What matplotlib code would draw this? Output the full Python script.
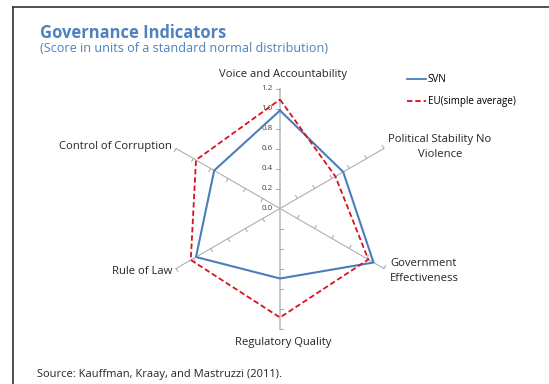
import numpy as np
import matplotlib.pyplot as plt
from matplotlib.lines import Line2D

plt.rcParams['font.family'] = ['Open Sans', 'DejaVu Sans']

# Governance indicators (score in units of a standard normal distribution)
categories = ['Voice and Accountability', 'Political Stability No\nViolence',
              'Government\nEffectiveness', 'Regulatory Quality',
              'Rule of Law', 'Control of Corruption']
svn = [0.98, 0.73, 1.08, 0.70, 0.97, 0.76]
eu = [1.09, 0.64, 1.02, 1.09, 1.03, 0.97]
ticks = [0.0, 0.2, 0.4, 0.6, 0.8, 1.0, 1.2]
rmax = 1.2

# spoke angles: start at top, go clockwise
angles = np.pi / 2 - np.arange(len(categories)) * 2 * np.pi / len(categories)

fig = plt.figure(figsize=(5.49, 3.84), dpi=100)
ax = fig.add_axes([0, 0, 1, 1])
ax.set_xlim(-2.80, 2.69)
ax.set_ylim(-1.755, 2.085)
ax.axis('off')

# spokes with small tick marks
for i, a in enumerate(angles):
    ca, sa = np.cos(a), np.sin(a)
    if i == 0 or i == 3:
        ax.plot([0, rmax * ca], [0, rmax * sa], color='#c8c8c8', lw=1.4, zorder=1)
    else:
        ax.plot([0, rmax * ca], [0, rmax * sa], color='#a6a6a6', lw=0.7, zorder=1)
    px, py = -sa, ca
    for t in ticks[1:]:
        cx, cy = t * ca, t * sa
        ax.plot([cx, cx + 0.035 * px], [cy, cy + 0.035 * py],
                color='#a6a6a6', lw=0.7, zorder=1)

# tick labels on the vertical axis
for t in ticks:
    ax.text(-0.07, t, f'{t:.1f}', ha='right', va='center', fontsize=5.8,
            color='#404040')

def close(v):
    return list(v) + [v[0]]

ang_c = close(angles)
ax.plot(np.array(close(svn)) * np.cos(ang_c), np.array(close(svn)) * np.sin(ang_c),
        color='#4a7ebb', lw=1.5, zorder=3)
ax.plot(np.array(close(eu)) * np.cos(ang_c), np.array(close(eu)) * np.sin(ang_c),
        color='#d9121b', lw=1.3, ls=(0, (3, 1.6)), zorder=4)

# category labels
lab_fs = 8.1
ax.text(0.03, 1.345, categories[0], ha='center', va='center', fontsize=lab_fs, color='#262626')
ax.text(1.60, 0.615, categories[1], ha='center', va='center', fontsize=lab_fs,
        color='#262626', linespacing=1.5)
ax.text(1.10, -0.625, categories[2], ha='left', va='center', fontsize=lab_fs,
        color='#262626', linespacing=1.5)
ax.text(0.03, -1.345, categories[3], ha='center', va='center', fontsize=lab_fs, color='#262626')
ax.text(-1.08, -0.625, categories[4], ha='right', va='center', fontsize=lab_fs, color='#262626')
ax.text(-1.08, 0.615, categories[5], ha='right', va='center', fontsize=lab_fs, color='#262626')

# legend
leg = [Line2D([], [], color='#4a7ebb', lw=1.3),
       Line2D([], [], color='#d9121b', lw=1.3, ls=(0, (3, 1.6)))]
fig.legend(leg, ['SVN', 'EU(simple average)'], loc='upper left',
           bbox_to_anchor=(0.725, 0.83), frameon=False, fontsize=7.1,
           handlelength=1.9, handletextpad=0.2, labelspacing=1.15)

# title block
fig.text(40 / 549, 1 - 33 / 384, 'Governance Indicators', fontsize=11.9,
         fontweight='bold', color='#4f81bd', va='center')
fig.text(40 / 549, 1 - 48.5 / 384, '(Score in units of a standard normal distribution)',
         fontsize=9.1, color='#4f81bd', va='center')
fig.text(37 / 549, 1 - 375 / 384, 'Source: Kauffman, Kraay, and Mastruzzi (2011).',
         fontsize=8.0, color='#262626', va='center')

# frame (top and left)
fig.add_artist(Line2D([13 / 549, 1], [1 - 6.5 / 384, 1 - 6.5 / 384],
                      transform=fig.transFigure, color='#333333', lw=1.2))
fig.add_artist(Line2D([13 / 549, 13 / 549], [0, 1 - 6.5 / 384],
                      transform=fig.transFigure, color='#333333', lw=1.2))

fig.savefig('out.png', dpi=100)
